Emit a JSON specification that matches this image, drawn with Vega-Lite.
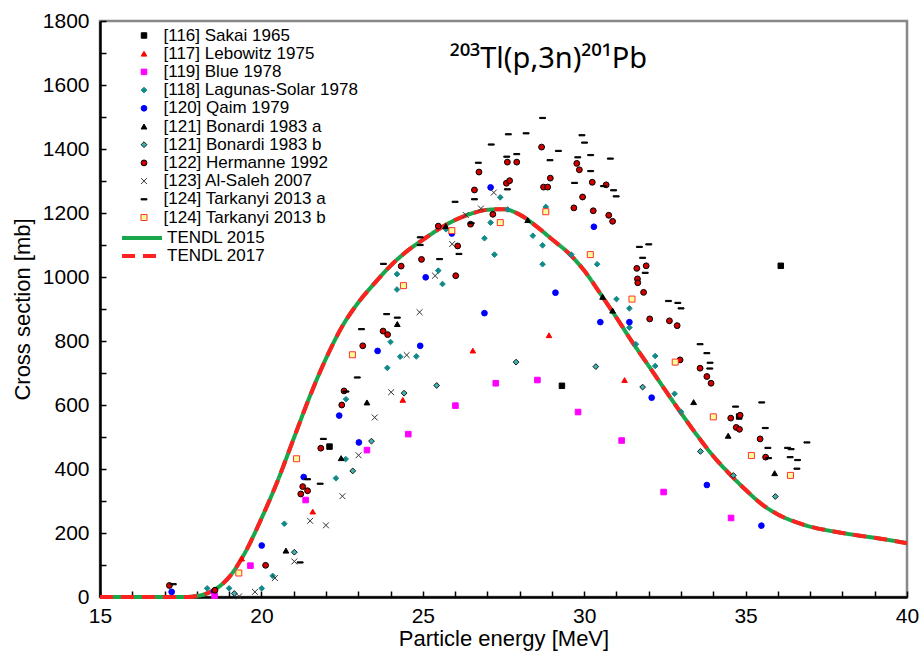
{
  "$schema": "https://vega.github.io/schema/vega-lite/v6.json",
  "autosize": {"type": "none"},
  "padding": {"left": 100, "top": 21, "right": 12, "bottom": 63},
  "width": 807,
  "height": 576,
  "title": {
    "text": "²⁰³Tl(p,3n)²⁰¹Pb",
    "orient": "top", "anchor": "middle", "frame": "group",
    "offset": -87, "dx": 45, "baseline": "alphabetic",
    "fontSize": 29, "fontWeight": "normal", "font": "Noto Sans", "color": "black"
  },
  "config": {
    "font": "Liberation Sans",
    "view": {"stroke": "#888888", "strokeWidth": 2.5},
    "legend": {"labelFont": "Liberation Sans", "labelColor": "black", "labelLimit": 400}
  },
  "datasets": {
    "curve": [
      {"model": "TENDL 2015", "energy": 15, "xs": 0},
      {"model": "TENDL 2015", "energy": 16, "xs": 0},
      {"model": "TENDL 2015", "energy": 17, "xs": 0},
      {"model": "TENDL 2015", "energy": 17.6, "xs": 0},
      {"model": "TENDL 2015", "energy": 17.85, "xs": 1},
      {"model": "TENDL 2015", "energy": 18.0, "xs": 3},
      {"model": "TENDL 2015", "energy": 18.5, "xs": 20},
      {"model": "TENDL 2015", "energy": 19.0, "xs": 62},
      {"model": "TENDL 2015", "energy": 19.5, "xs": 140},
      {"model": "TENDL 2015", "energy": 20.0, "xs": 245},
      {"model": "TENDL 2015", "energy": 20.5, "xs": 362},
      {"model": "TENDL 2015", "energy": 21.0, "xs": 495},
      {"model": "TENDL 2015", "energy": 21.5, "xs": 627},
      {"model": "TENDL 2015", "energy": 22.0, "xs": 745},
      {"model": "TENDL 2015", "energy": 22.5, "xs": 845},
      {"model": "TENDL 2015", "energy": 23.0, "xs": 920},
      {"model": "TENDL 2015", "energy": 23.5, "xs": 980},
      {"model": "TENDL 2015", "energy": 24.0, "xs": 1035},
      {"model": "TENDL 2015", "energy": 24.5, "xs": 1080},
      {"model": "TENDL 2015", "energy": 25.0, "xs": 1116},
      {"model": "TENDL 2015", "energy": 25.5, "xs": 1150},
      {"model": "TENDL 2015", "energy": 26.0, "xs": 1178},
      {"model": "TENDL 2015", "energy": 26.5, "xs": 1198},
      {"model": "TENDL 2015", "energy": 27.0, "xs": 1210},
      {"model": "TENDL 2015", "energy": 27.5, "xs": 1212},
      {"model": "TENDL 2015", "energy": 28.0, "xs": 1195},
      {"model": "TENDL 2015", "energy": 28.5, "xs": 1160},
      {"model": "TENDL 2015", "energy": 29.0, "xs": 1118},
      {"model": "TENDL 2015", "energy": 29.5, "xs": 1076},
      {"model": "TENDL 2015", "energy": 30.0, "xs": 1020},
      {"model": "TENDL 2015", "energy": 30.5, "xs": 948},
      {"model": "TENDL 2015", "energy": 31.0, "xs": 873},
      {"model": "TENDL 2015", "energy": 31.5, "xs": 795},
      {"model": "TENDL 2015", "energy": 32.0, "xs": 722},
      {"model": "TENDL 2015", "energy": 32.5, "xs": 648},
      {"model": "TENDL 2015", "energy": 33.0, "xs": 575},
      {"model": "TENDL 2015", "energy": 33.5, "xs": 505},
      {"model": "TENDL 2015", "energy": 34.0, "xs": 440},
      {"model": "TENDL 2015", "energy": 34.5, "xs": 385},
      {"model": "TENDL 2015", "energy": 35.0, "xs": 335},
      {"model": "TENDL 2015", "energy": 35.5, "xs": 290},
      {"model": "TENDL 2015", "energy": 36.0, "xs": 258},
      {"model": "TENDL 2015", "energy": 36.5, "xs": 236},
      {"model": "TENDL 2015", "energy": 37.0, "xs": 220},
      {"model": "TENDL 2015", "energy": 37.5, "xs": 209},
      {"model": "TENDL 2015", "energy": 38.0, "xs": 200},
      {"model": "TENDL 2015", "energy": 38.5, "xs": 192},
      {"model": "TENDL 2015", "energy": 39.0, "xs": 185},
      {"model": "TENDL 2015", "energy": 39.5, "xs": 177},
      {"model": "TENDL 2015", "energy": 40.0, "xs": 168},
      {"model": "TENDL 2017", "energy": 15, "xs": 0},
      {"model": "TENDL 2017", "energy": 16, "xs": 0},
      {"model": "TENDL 2017", "energy": 17, "xs": 0},
      {"model": "TENDL 2017", "energy": 17.6, "xs": 0},
      {"model": "TENDL 2017", "energy": 17.85, "xs": 1},
      {"model": "TENDL 2017", "energy": 18.0, "xs": 3},
      {"model": "TENDL 2017", "energy": 18.5, "xs": 20},
      {"model": "TENDL 2017", "energy": 19.0, "xs": 62},
      {"model": "TENDL 2017", "energy": 19.5, "xs": 140},
      {"model": "TENDL 2017", "energy": 20.0, "xs": 245},
      {"model": "TENDL 2017", "energy": 20.5, "xs": 362},
      {"model": "TENDL 2017", "energy": 21.0, "xs": 495},
      {"model": "TENDL 2017", "energy": 21.5, "xs": 627},
      {"model": "TENDL 2017", "energy": 22.0, "xs": 745},
      {"model": "TENDL 2017", "energy": 22.5, "xs": 845},
      {"model": "TENDL 2017", "energy": 23.0, "xs": 920},
      {"model": "TENDL 2017", "energy": 23.5, "xs": 980},
      {"model": "TENDL 2017", "energy": 24.0, "xs": 1035},
      {"model": "TENDL 2017", "energy": 24.5, "xs": 1080},
      {"model": "TENDL 2017", "energy": 25.0, "xs": 1116},
      {"model": "TENDL 2017", "energy": 25.5, "xs": 1150},
      {"model": "TENDL 2017", "energy": 26.0, "xs": 1178},
      {"model": "TENDL 2017", "energy": 26.5, "xs": 1198},
      {"model": "TENDL 2017", "energy": 27.0, "xs": 1210},
      {"model": "TENDL 2017", "energy": 27.5, "xs": 1212},
      {"model": "TENDL 2017", "energy": 28.0, "xs": 1195},
      {"model": "TENDL 2017", "energy": 28.5, "xs": 1160},
      {"model": "TENDL 2017", "energy": 29.0, "xs": 1118},
      {"model": "TENDL 2017", "energy": 29.5, "xs": 1076},
      {"model": "TENDL 2017", "energy": 30.0, "xs": 1020},
      {"model": "TENDL 2017", "energy": 30.5, "xs": 948},
      {"model": "TENDL 2017", "energy": 31.0, "xs": 873},
      {"model": "TENDL 2017", "energy": 31.5, "xs": 795},
      {"model": "TENDL 2017", "energy": 32.0, "xs": 722},
      {"model": "TENDL 2017", "energy": 32.5, "xs": 648},
      {"model": "TENDL 2017", "energy": 33.0, "xs": 575},
      {"model": "TENDL 2017", "energy": 33.5, "xs": 505},
      {"model": "TENDL 2017", "energy": 34.0, "xs": 440},
      {"model": "TENDL 2017", "energy": 34.5, "xs": 385},
      {"model": "TENDL 2017", "energy": 35.0, "xs": 335},
      {"model": "TENDL 2017", "energy": 35.5, "xs": 290},
      {"model": "TENDL 2017", "energy": 36.0, "xs": 258},
      {"model": "TENDL 2017", "energy": 36.5, "xs": 236},
      {"model": "TENDL 2017", "energy": 37.0, "xs": 220},
      {"model": "TENDL 2017", "energy": 37.5, "xs": 209},
      {"model": "TENDL 2017", "energy": 38.0, "xs": 200},
      {"model": "TENDL 2017", "energy": 38.5, "xs": 192},
      {"model": "TENDL 2017", "energy": 39.0, "xs": 185},
      {"model": "TENDL 2017", "energy": 39.5, "xs": 177},
      {"model": "TENDL 2017", "energy": 40.0, "xs": 168}
    ],
    "pts": [
      {"series": "[118] Lagunas-Solar 1978", "energy": 18.32, "xs": 27},
      {"series": "[118] Lagunas-Solar 1978", "energy": 19.0, "xs": 27},
      {"series": "[118] Lagunas-Solar 1978", "energy": 20.01, "xs": 27},
      {"series": "[118] Lagunas-Solar 1978", "energy": 20.35, "xs": 66},
      {"series": "[118] Lagunas-Solar 1978", "energy": 20.71, "xs": 229},
      {"series": "[118] Lagunas-Solar 1978", "energy": 22.31, "xs": 371},
      {"series": "[118] Lagunas-Solar 1978", "energy": 22.61, "xs": 431},
      {"series": "[118] Lagunas-Solar 1978", "energy": 22.62, "xs": 618},
      {"series": "[118] Lagunas-Solar 1978", "energy": 23.9, "xs": 716},
      {"series": "[118] Lagunas-Solar 1978", "energy": 24.0, "xs": 797},
      {"series": "[118] Lagunas-Solar 1978", "energy": 24.3, "xs": 751},
      {"series": "[118] Lagunas-Solar 1978", "energy": 24.8, "xs": 752},
      {"series": "[118] Lagunas-Solar 1978", "energy": 24.2, "xs": 1009},
      {"series": "[118] Lagunas-Solar 1978", "energy": 24.2, "xs": 961},
      {"series": "[118] Lagunas-Solar 1978", "energy": 25.61, "xs": 978},
      {"series": "[118] Lagunas-Solar 1978", "energy": 25.48, "xs": 1020},
      {"series": "[118] Lagunas-Solar 1978", "energy": 25.72, "xs": 1149},
      {"series": "[118] Lagunas-Solar 1978", "energy": 26.91, "xs": 1121},
      {"series": "[118] Lagunas-Solar 1978", "energy": 27.22, "xs": 1070},
      {"series": "[118] Lagunas-Solar 1978", "energy": 27.1, "xs": 1170},
      {"series": "[118] Lagunas-Solar 1978", "energy": 27.4, "xs": 1249},
      {"series": "[118] Lagunas-Solar 1978", "energy": 27.63, "xs": 1211},
      {"series": "[118] Lagunas-Solar 1978", "energy": 28.41, "xs": 1129},
      {"series": "[118] Lagunas-Solar 1978", "energy": 28.71, "xs": 1099},
      {"series": "[118] Lagunas-Solar 1978", "energy": 28.71, "xs": 1040},
      {"series": "[118] Lagunas-Solar 1978", "energy": 28.81, "xs": 1219},
      {"series": "[118] Lagunas-Solar 1978", "energy": 29.6, "xs": 1070},
      {"series": "[118] Lagunas-Solar 1978", "energy": 30.4, "xs": 1040},
      {"series": "[118] Lagunas-Solar 1978", "energy": 31.0, "xs": 931},
      {"series": "[118] Lagunas-Solar 1978", "energy": 31.4, "xs": 902},
      {"series": "[118] Lagunas-Solar 1978", "energy": 31.4, "xs": 842},
      {"series": "[118] Lagunas-Solar 1978", "energy": 31.6, "xs": 790},
      {"series": "[118] Lagunas-Solar 1978", "energy": 32.2, "xs": 753},
      {"series": "[118] Lagunas-Solar 1978", "energy": 32.2, "xs": 722},
      {"series": "[118] Lagunas-Solar 1978", "energy": 32.8, "xs": 635},
      {"series": "[118] Lagunas-Solar 1978", "energy": 33.0, "xs": 579},
      {"series": "[121] Bonardi 1983 b", "energy": 19.16, "xs": 11},
      {"series": "[121] Bonardi 1983 b", "energy": 21.02, "xs": 140},
      {"series": "[121] Bonardi 1983 b", "energy": 22.83, "xs": 394},
      {"series": "[121] Bonardi 1983 b", "energy": 23.41, "xs": 487},
      {"series": "[121] Bonardi 1983 b", "energy": 24.42, "xs": 637},
      {"series": "[121] Bonardi 1983 b", "energy": 25.43, "xs": 661},
      {"series": "[121] Bonardi 1983 b", "energy": 27.89, "xs": 734},
      {"series": "[121] Bonardi 1983 b", "energy": 30.36, "xs": 720},
      {"series": "[121] Bonardi 1983 b", "energy": 31.81, "xs": 656},
      {"series": "[121] Bonardi 1983 b", "energy": 33.6, "xs": 455},
      {"series": "[121] Bonardi 1983 b", "energy": 34.62, "xs": 380},
      {"series": "[121] Bonardi 1983 b", "energy": 35.92, "xs": 314},
      {"series": "[120] Qaim 1979", "energy": 17.22, "xs": 16},
      {"series": "[120] Qaim 1979", "energy": 18.53, "xs": 17},
      {"series": "[120] Qaim 1979", "energy": 20.01, "xs": 161},
      {"series": "[120] Qaim 1979", "energy": 21.31, "xs": 375},
      {"series": "[120] Qaim 1979", "energy": 22.41, "xs": 567},
      {"series": "[120] Qaim 1979", "energy": 23.02, "xs": 483},
      {"series": "[120] Qaim 1979", "energy": 23.6, "xs": 769},
      {"series": "[120] Qaim 1979", "energy": 24.92, "xs": 785},
      {"series": "[120] Qaim 1979", "energy": 25.09, "xs": 999},
      {"series": "[120] Qaim 1979", "energy": 25.9, "xs": 1136},
      {"series": "[120] Qaim 1979", "energy": 26.91, "xs": 887},
      {"series": "[120] Qaim 1979", "energy": 27.1, "xs": 1280},
      {"series": "[120] Qaim 1979", "energy": 29.11, "xs": 951},
      {"series": "[120] Qaim 1979", "energy": 30.3, "xs": 1157},
      {"series": "[120] Qaim 1979", "energy": 30.5, "xs": 859},
      {"series": "[120] Qaim 1979", "energy": 31.4, "xs": 859},
      {"series": "[120] Qaim 1979", "energy": 32.09, "xs": 623},
      {"series": "[120] Qaim 1979", "energy": 33.8, "xs": 350},
      {"series": "[120] Qaim 1979", "energy": 35.49, "xs": 223},
      {"series": "[119] Blue 1978", "energy": 18.55, "xs": 4},
      {"series": "[119] Blue 1978", "energy": 19.66, "xs": 98},
      {"series": "[119] Blue 1978", "energy": 21.37, "xs": 303},
      {"series": "[119] Blue 1978", "energy": 23.27, "xs": 459},
      {"series": "[119] Blue 1978", "energy": 24.55, "xs": 509},
      {"series": "[119] Blue 1978", "energy": 26.01, "xs": 598},
      {"series": "[119] Blue 1978", "energy": 27.26, "xs": 668},
      {"series": "[119] Blue 1978", "energy": 28.55, "xs": 678},
      {"series": "[119] Blue 1978", "energy": 29.81, "xs": 578},
      {"series": "[119] Blue 1978", "energy": 31.16, "xs": 489},
      {"series": "[119] Blue 1978", "energy": 32.46, "xs": 328},
      {"series": "[119] Blue 1978", "energy": 34.55, "xs": 247},
      {"series": "[117] Lebowitz 1975", "energy": 19.39, "xs": 120},
      {"series": "[117] Lebowitz 1975", "energy": 21.59, "xs": 267},
      {"series": "[117] Lebowitz 1975", "energy": 24.38, "xs": 616},
      {"series": "[117] Lebowitz 1975", "energy": 26.55, "xs": 770},
      {"series": "[117] Lebowitz 1975", "energy": 28.91, "xs": 818},
      {"series": "[117] Lebowitz 1975", "energy": 31.25, "xs": 678},
      {"series": "[116] Sakai 1965", "energy": 22.11, "xs": 470},
      {"series": "[116] Sakai 1965", "energy": 29.31, "xs": 660},
      {"series": "[116] Sakai 1965", "energy": 34.8, "xs": 564},
      {"series": "[116] Sakai 1965", "energy": 36.09, "xs": 1035},
      {"series": "[121] Bonardi 1983 a", "energy": 20.76, "xs": 145},
      {"series": "[121] Bonardi 1983 a", "energy": 22.47, "xs": 434},
      {"series": "[121] Bonardi 1983 a", "energy": 23.27, "xs": 608},
      {"series": "[121] Bonardi 1983 a", "energy": 24.21, "xs": 853},
      {"series": "[121] Bonardi 1983 a", "energy": 25.71, "xs": 1159},
      {"series": "[121] Bonardi 1983 a", "energy": 28.25, "xs": 1178},
      {"series": "[121] Bonardi 1983 a", "energy": 30.57, "xs": 938},
      {"series": "[121] Bonardi 1983 a", "energy": 30.88, "xs": 895},
      {"series": "[121] Bonardi 1983 a", "energy": 33.39, "xs": 609},
      {"series": "[121] Bonardi 1983 a", "energy": 34.46, "xs": 504},
      {"series": "[121] Bonardi 1983 a", "energy": 35.9, "xs": 387},
      {"series": "[122] Hermanne 1992", "energy": 17.15, "xs": 36},
      {"series": "[122] Hermanne 1992", "energy": 18.56, "xs": 21},
      {"series": "[122] Hermanne 1992", "energy": 20.13, "xs": 99},
      {"series": "[122] Hermanne 1992", "energy": 21.22, "xs": 322},
      {"series": "[122] Hermanne 1992", "energy": 21.28, "xs": 345},
      {"series": "[122] Hermanne 1992", "energy": 21.43, "xs": 332},
      {"series": "[122] Hermanne 1992", "energy": 21.84, "xs": 465},
      {"series": "[122] Hermanne 1992", "energy": 22.49, "xs": 600},
      {"series": "[122] Hermanne 1992", "energy": 22.56, "xs": 644},
      {"series": "[122] Hermanne 1992", "energy": 23.14, "xs": 785},
      {"series": "[122] Hermanne 1992", "energy": 23.77, "xs": 831},
      {"series": "[122] Hermanne 1992", "energy": 23.91, "xs": 820},
      {"series": "[122] Hermanne 1992", "energy": 24.33, "xs": 1034},
      {"series": "[122] Hermanne 1992", "energy": 24.96, "xs": 1055},
      {"series": "[122] Hermanne 1992", "energy": 26.02, "xs": 1004},
      {"series": "[122] Hermanne 1992", "energy": 26.08, "xs": 1097},
      {"series": "[122] Hermanne 1992", "energy": 25.48, "xs": 1159},
      {"series": "[122] Hermanne 1992", "energy": 26.48, "xs": 1165},
      {"series": "[122] Hermanne 1992", "energy": 27.17, "xs": 1196},
      {"series": "[122] Hermanne 1992", "energy": 26.6, "xs": 1272},
      {"series": "[122] Hermanne 1992", "energy": 26.74, "xs": 1328},
      {"series": "[122] Hermanne 1992", "energy": 27.59, "xs": 1293},
      {"series": "[122] Hermanne 1992", "energy": 27.69, "xs": 1301},
      {"series": "[122] Hermanne 1992", "energy": 27.62, "xs": 1359},
      {"series": "[122] Hermanne 1992", "energy": 27.91, "xs": 1359},
      {"series": "[122] Hermanne 1992", "energy": 28.68, "xs": 1406},
      {"series": "[122] Hermanne 1992", "energy": 28.74, "xs": 1281},
      {"series": "[122] Hermanne 1992", "energy": 28.87, "xs": 1281},
      {"series": "[122] Hermanne 1992", "energy": 28.95, "xs": 1309},
      {"series": "[122] Hermanne 1992", "energy": 29.77, "xs": 1355},
      {"series": "[122] Hermanne 1992", "energy": 29.85, "xs": 1335},
      {"series": "[122] Hermanne 1992", "energy": 29.68, "xs": 1216},
      {"series": "[122] Hermanne 1992", "energy": 29.95, "xs": 1250},
      {"series": "[122] Hermanne 1992", "energy": 30.25, "xs": 1296},
      {"series": "[122] Hermanne 1992", "energy": 30.28, "xs": 1207},
      {"series": "[122] Hermanne 1992", "energy": 30.68, "xs": 1288},
      {"series": "[122] Hermanne 1992", "energy": 30.76, "xs": 1193},
      {"series": "[122] Hermanne 1992", "energy": 30.88, "xs": 1174},
      {"series": "[122] Hermanne 1992", "energy": 31.63, "xs": 1027},
      {"series": "[122] Hermanne 1992", "energy": 31.92, "xs": 1035},
      {"series": "[122] Hermanne 1992", "energy": 31.65, "xs": 994},
      {"series": "[122] Hermanne 1992", "energy": 31.66, "xs": 982},
      {"series": "[122] Hermanne 1992", "energy": 31.84, "xs": 952},
      {"series": "[122] Hermanne 1992", "energy": 32.03, "xs": 869},
      {"series": "[122] Hermanne 1992", "energy": 32.64, "xs": 863},
      {"series": "[122] Hermanne 1992", "energy": 32.88, "xs": 848},
      {"series": "[122] Hermanne 1992", "energy": 32.97, "xs": 741},
      {"series": "[122] Hermanne 1992", "energy": 33.59, "xs": 715},
      {"series": "[122] Hermanne 1992", "energy": 33.8, "xs": 689},
      {"series": "[122] Hermanne 1992", "energy": 33.93, "xs": 668},
      {"series": "[122] Hermanne 1992", "energy": 34.54, "xs": 559},
      {"series": "[122] Hermanne 1992", "energy": 34.83, "xs": 568},
      {"series": "[122] Hermanne 1992", "energy": 34.71, "xs": 530},
      {"series": "[122] Hermanne 1992", "energy": 34.81, "xs": 524},
      {"series": "[122] Hermanne 1992", "energy": 35.45, "xs": 494},
      {"series": "[122] Hermanne 1992", "energy": 35.62, "xs": 437},
      {"series": "[123] Al-Saleh 2007", "energy": 19.31, "xs": 2},
      {"series": "[123] Al-Saleh 2007", "energy": 19.8, "xs": 16},
      {"series": "[123] Al-Saleh 2007", "energy": 20.42, "xs": 59},
      {"series": "[123] Al-Saleh 2007", "energy": 21.02, "xs": 111},
      {"series": "[123] Al-Saleh 2007", "energy": 21.51, "xs": 238},
      {"series": "[123] Al-Saleh 2007", "energy": 22.0, "xs": 224},
      {"series": "[123] Al-Saleh 2007", "energy": 22.51, "xs": 315},
      {"series": "[123] Al-Saleh 2007", "energy": 23.01, "xs": 443},
      {"series": "[123] Al-Saleh 2007", "energy": 23.51, "xs": 561},
      {"series": "[123] Al-Saleh 2007", "energy": 24.02, "xs": 640},
      {"series": "[123] Al-Saleh 2007", "energy": 24.5, "xs": 756},
      {"series": "[123] Al-Saleh 2007", "energy": 24.9, "xs": 890},
      {"series": "[123] Al-Saleh 2007", "energy": 25.38, "xs": 1004},
      {"series": "[123] Al-Saleh 2007", "energy": 25.91, "xs": 1103},
      {"series": "[123] Al-Saleh 2007", "energy": 26.33, "xs": 1194},
      {"series": "[123] Al-Saleh 2007", "energy": 26.8, "xs": 1214},
      {"series": "[123] Al-Saleh 2007", "energy": 27.2, "xs": 1264},
      {"series": "[124] Tarkanyi 2013 a", "energy": 17.27, "xs": 40},
      {"series": "[124] Tarkanyi 2013 a", "energy": 21.2, "xs": 108},
      {"series": "[124] Tarkanyi 2013 a", "energy": 21.43, "xs": 368},
      {"series": "[124] Tarkanyi 2013 a", "energy": 21.82, "xs": 354},
      {"series": "[124] Tarkanyi 2013 a", "energy": 21.92, "xs": 494},
      {"series": "[124] Tarkanyi 2013 a", "energy": 22.62, "xs": 642},
      {"series": "[124] Tarkanyi 2013 a", "energy": 22.97, "xs": 686},
      {"series": "[124] Tarkanyi 2013 a", "energy": 23.1, "xs": 837},
      {"series": "[124] Tarkanyi 2013 a", "energy": 23.88, "xs": 884},
      {"series": "[124] Tarkanyi 2013 a", "energy": 24.21, "xs": 873},
      {"series": "[124] Tarkanyi 2013 a", "energy": 23.78, "xs": 1041},
      {"series": "[124] Tarkanyi 2013 a", "energy": 24.92, "xs": 1124},
      {"series": "[124] Tarkanyi 2013 a", "energy": 24.92, "xs": 1100},
      {"series": "[124] Tarkanyi 2013 a", "energy": 25.52, "xs": 1056},
      {"series": "[124] Tarkanyi 2013 a", "energy": 26.12, "xs": 1072},
      {"series": "[124] Tarkanyi 2013 a", "energy": 26.0, "xs": 1235},
      {"series": "[124] Tarkanyi 2013 a", "energy": 26.5, "xs": 1168},
      {"series": "[124] Tarkanyi 2013 a", "energy": 26.6, "xs": 1243},
      {"series": "[124] Tarkanyi 2013 a", "energy": 26.72, "xs": 1357},
      {"series": "[124] Tarkanyi 2013 a", "energy": 27.12, "xs": 1414},
      {"series": "[124] Tarkanyi 2013 a", "energy": 27.6, "xs": 1376},
      {"series": "[124] Tarkanyi 2013 a", "energy": 27.65, "xs": 1446},
      {"series": "[124] Tarkanyi 2013 a", "energy": 27.62, "xs": 1274},
      {"series": "[124] Tarkanyi 2013 a", "energy": 27.91, "xs": 1384},
      {"series": "[124] Tarkanyi 2013 a", "energy": 28.2, "xs": 1449},
      {"series": "[124] Tarkanyi 2013 a", "energy": 28.71, "xs": 1497},
      {"series": "[124] Tarkanyi 2013 a", "energy": 29.2, "xs": 1394},
      {"series": "[124] Tarkanyi 2013 a", "energy": 28.94, "xs": 1365},
      {"series": "[124] Tarkanyi 2013 a", "energy": 29.93, "xs": 1443},
      {"series": "[124] Tarkanyi 2013 a", "energy": 30.01, "xs": 1420},
      {"series": "[124] Tarkanyi 2013 a", "energy": 29.8, "xs": 1374},
      {"series": "[124] Tarkanyi 2013 a", "energy": 30.2, "xs": 1381},
      {"series": "[124] Tarkanyi 2013 a", "energy": 30.2, "xs": 1331},
      {"series": "[124] Tarkanyi 2013 a", "energy": 29.7, "xs": 1294},
      {"series": "[124] Tarkanyi 2013 a", "energy": 30.81, "xs": 1370},
      {"series": "[124] Tarkanyi 2013 a", "energy": 30.6, "xs": 1284},
      {"series": "[124] Tarkanyi 2013 a", "energy": 30.91, "xs": 1271},
      {"series": "[124] Tarkanyi 2013 a", "energy": 30.99, "xs": 1252},
      {"series": "[124] Tarkanyi 2013 a", "energy": 31.71, "xs": 1094},
      {"series": "[124] Tarkanyi 2013 a", "energy": 32.0, "xs": 1102},
      {"series": "[124] Tarkanyi 2013 a", "energy": 31.81, "xs": 1060},
      {"series": "[124] Tarkanyi 2013 a", "energy": 31.89, "xs": 1013},
      {"series": "[124] Tarkanyi 2013 a", "energy": 32.61, "xs": 925},
      {"series": "[124] Tarkanyi 2013 a", "energy": 32.9, "xs": 919},
      {"series": "[124] Tarkanyi 2013 a", "energy": 33.0, "xs": 902},
      {"series": "[124] Tarkanyi 2013 a", "energy": 33.59, "xs": 790},
      {"series": "[124] Tarkanyi 2013 a", "energy": 33.8, "xs": 762},
      {"series": "[124] Tarkanyi 2013 a", "energy": 33.9, "xs": 732},
      {"series": "[124] Tarkanyi 2013 a", "energy": 33.89, "xs": 714},
      {"series": "[124] Tarkanyi 2013 a", "energy": 34.69, "xs": 595},
      {"series": "[124] Tarkanyi 2013 a", "energy": 35.5, "xs": 608},
      {"series": "[124] Tarkanyi 2013 a", "energy": 35.61, "xs": 528},
      {"series": "[124] Tarkanyi 2013 a", "energy": 35.69, "xs": 466},
      {"series": "[124] Tarkanyi 2013 a", "energy": 35.71, "xs": 434},
      {"series": "[124] Tarkanyi 2013 a", "energy": 36.3, "xs": 466},
      {"series": "[124] Tarkanyi 2013 a", "energy": 36.41, "xs": 462},
      {"series": "[124] Tarkanyi 2013 a", "energy": 36.38, "xs": 437},
      {"series": "[124] Tarkanyi 2013 a", "energy": 36.61, "xs": 428},
      {"series": "[124] Tarkanyi 2013 a", "energy": 36.59, "xs": 401},
      {"series": "[124] Tarkanyi 2013 a", "energy": 36.9, "xs": 483},
      {"series": "[124] Tarkanyi 2013 b", "energy": 19.3, "xs": 75},
      {"series": "[124] Tarkanyi 2013 b", "energy": 21.09, "xs": 432},
      {"series": "[124] Tarkanyi 2013 b", "energy": 22.82, "xs": 757},
      {"series": "[124] Tarkanyi 2013 b", "energy": 24.4, "xs": 973},
      {"series": "[124] Tarkanyi 2013 b", "energy": 25.9, "xs": 1145},
      {"series": "[124] Tarkanyi 2013 b", "energy": 27.4, "xs": 1170},
      {"series": "[124] Tarkanyi 2013 b", "energy": 28.81, "xs": 1204},
      {"series": "[124] Tarkanyi 2013 b", "energy": 30.19, "xs": 1070},
      {"series": "[124] Tarkanyi 2013 b", "energy": 31.48, "xs": 931},
      {"series": "[124] Tarkanyi 2013 b", "energy": 32.82, "xs": 734},
      {"series": "[124] Tarkanyi 2013 b", "energy": 34.0, "xs": 563},
      {"series": "[124] Tarkanyi 2013 b", "energy": 35.18, "xs": 442},
      {"series": "[124] Tarkanyi 2013 b", "energy": 36.39, "xs": 380}
    ]
  },
  "encoding": {
    "x": {
      "field": "energy", "type": "quantitative",
      "scale": {"domain": [15, 40], "nice": false, "zero": false},
      "axis": {
        "title": "Particle energy [MeV]",
        "values": [15,16,17,18,19,20,21,22,23,24,25,26,27,28,29,30,31,32,33,34,35,36,37,38,39,40],
        "labelExpr": "datum.value % 5 === 0 ? datum.label : ''",
        "labelOverlap": false, "labelFlush": false,
        "grid": false, "tickSize": -6, "tickColor": "black", "tickWidth": 1.5,
        "domainColor": "black", "domainWidth": 2.5,
        "labelFontSize": 21, "labelColor": "black", "labelPadding": 14,
        "titleFontSize": 22, "titleFontWeight": "normal", "titleColor": "black", "titlePadding": 2
      }
    },
    "y": {
      "field": "xs", "type": "quantitative",
      "scale": {"domain": [0, 1800], "nice": false},
      "axis": {
        "title": "Cross section [mb]",
        "values": [0,100,200,300,400,500,600,700,800,900,1000,1100,1200,1300,1400,1500,1600,1700,1800],
        "labelExpr": "datum.value % 200 === 0 ? datum.value : ''",
        "labelOverlap": false, "labelFlush": false,
        "grid": false, "tickSize": -6, "tickColor": "black", "tickWidth": 1.5,
        "domainColor": "black", "domainWidth": 2.5,
        "labelFontSize": 21, "labelColor": "black", "labelPadding": 17,
        "titleFontSize": 22, "titleFontWeight": "normal", "titleColor": "black", "titlePadding": 8
      }
    }
  },
  "layer": [
    {
      "data": {"name": "curve"},
      "transform": [{"filter": "datum.model === 'TENDL 2015'"}],
      "mark": {"type": "line", "interpolate": "monotone", "strokeWidth": 4},
      "encoding": {
        "color": {
          "field": "model", "type": "nominal",
          "scale": {"domain": ["TENDL 2015", "TENDL 2017"], "range": ["#1aa64a", "#ff2020"]},
          "legend": {
            "title": null, "orient": "none", "legendX": 32, "legendY": 207,
            "symbolType": "M-2.5,0L2.5,0", "symbolSize": 256, "symbolStrokeWidth": 4,
            "labelFontSize": 17, "labelOffset": 15, "rowPadding": 0, "padding": 0
          }
        },
        "strokeDash": {
          "field": "model", "type": "nominal",
          "scale": {"domain": ["TENDL 2015", "TENDL 2017"], "range": [[1, 0], [13, 8]]}
        }
      }
    },
    {
      "data": {"name": "curve"},
      "transform": [{"filter": "datum.model === 'TENDL 2017'"}],
      "mark": {"type": "line", "interpolate": "monotone", "strokeWidth": 4},
      "encoding": {
        "color": {"field": "model", "type": "nominal"},
        "strokeDash": {"field": "model", "type": "nominal"}
      }
    },
    {
      "data": {"name": "pts"},
      "mark": {"type": "point", "filled": true, "opacity": 1},
      "encoding": {
        "fill": {
          "field": "series", "type": "nominal",
          "scale": {
            "domain": ["[116] Sakai 1965", "[117] Lebowitz 1975", "[119] Blue 1978", "[118] Lagunas-Solar 1978", "[120] Qaim 1979", "[121] Bonardi 1983 a", "[121] Bonardi 1983 b", "[122] Hermanne 1992", "[123] Al-Saleh 2007", "[124] Tarkanyi 2013 a", "[124] Tarkanyi 2013 b"],
            "range": ["#000000", "#ff0000", "#ff00ff", "#138a8a", "#0000ff", "#000000", "#3cb4b4", "#d00000", "#333333", "#000000", "#ffff99"]
          },
          "legend": {
            "title": null, "orient": "none", "legendX": 35.5, "legendY": 6,
            "labelFontSize": 17, "labelOffset": 11, "rowPadding": 0.2, "padding": 0
          }
        },
        "stroke": {
          "field": "series", "type": "nominal",
          "scale": {
            "domain": ["[116] Sakai 1965", "[117] Lebowitz 1975", "[119] Blue 1978", "[118] Lagunas-Solar 1978", "[120] Qaim 1979", "[121] Bonardi 1983 a", "[121] Bonardi 1983 b", "[122] Hermanne 1992", "[123] Al-Saleh 2007", "[124] Tarkanyi 2013 a", "[124] Tarkanyi 2013 b"],
            "range": ["#000000", "#ff0000", "#ff00ff", "#138a8a", "#0000ff", "#000000", "#1a1a1a", "#000000", "#333333", "#000000", "#ff3030"]
          }
        },
        "strokeWidth": {
          "field": "series", "type": "nominal",
          "scale": {
            "domain": ["[116] Sakai 1965", "[117] Lebowitz 1975", "[119] Blue 1978", "[118] Lagunas-Solar 1978", "[120] Qaim 1979", "[121] Bonardi 1983 a", "[121] Bonardi 1983 b", "[122] Hermanne 1992", "[123] Al-Saleh 2007", "[124] Tarkanyi 2013 a", "[124] Tarkanyi 2013 b"],
            "range": [1, 1, 1, 1, 1, 1, 1, 1, 1.4, 1, 1.6]
          }
        },
        "shape": {
          "field": "series", "type": "nominal",
          "scale": {
            "domain": ["[116] Sakai 1965", "[117] Lebowitz 1975", "[119] Blue 1978", "[118] Lagunas-Solar 1978", "[120] Qaim 1979", "[121] Bonardi 1983 a", "[121] Bonardi 1983 b", "[122] Hermanne 1992", "[123] Al-Saleh 2007", "[124] Tarkanyi 2013 a", "[124] Tarkanyi 2013 b"],
            "range": ["square", "triangle-up", "square", "diamond", "circle", "triangle-up", "diamond", "circle", "M-1,-1L1,1M-1,1L1,-1", "M-1,-0.2L1,-0.2L1,0.2L-1,0.2Z", "square"]
          }
        },
        "size": {
          "field": "series", "type": "nominal",
          "scale": {
            "domain": ["[116] Sakai 1965", "[117] Lebowitz 1975", "[119] Blue 1978", "[118] Lagunas-Solar 1978", "[120] Qaim 1979", "[121] Bonardi 1983 a", "[121] Bonardi 1983 b", "[122] Hermanne 1992", "[123] Al-Saleh 2007", "[124] Tarkanyi 2013 a", "[124] Tarkanyi 2013 b"],
            "range": [30, 36, 40, 45, 36, 40, 45, 40, 220, 150, 110]
          }
        }
      }
    }
  ]
}
